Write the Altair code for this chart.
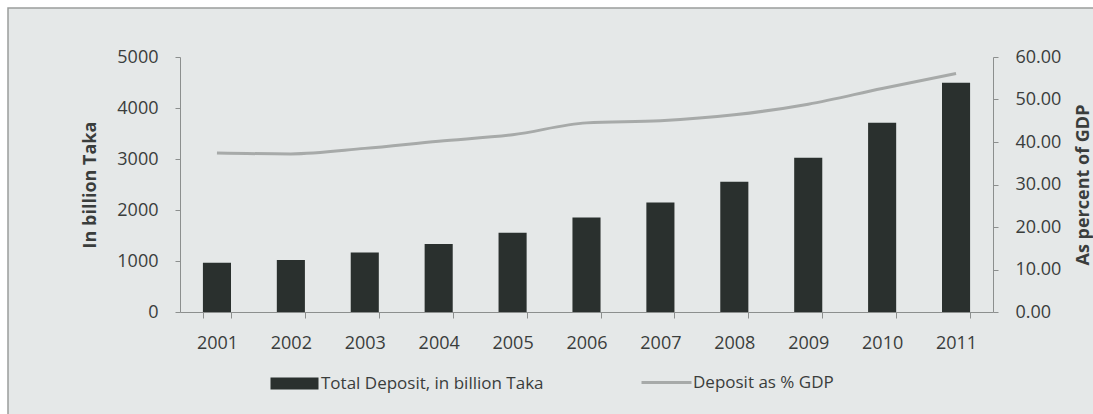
import altair as alt
import pandas as pd

years = ["2001", "2002", "2003", "2004", "2005", "2006", "2007", "2008", "2009", "2010", "2011"]
total_deposit = [965, 1020, 1165, 1335, 1555, 1855, 2145, 2555, 3025, 3710, 4495]
deposit_pct_gdp = [37.4, 37.2, 38.5, 40.2, 41.7, 44.5, 45.0, 46.4, 48.9, 52.6, 56.1]
bar_label = "Total Deposit, in billion Taka"
line_label = "Deposit as % GDP"
left_title = "In billion Taka"
right_title = "As percent of GDP"

df = pd.DataFrame({
    "year": years,
    "deposit": total_deposit,
    "pct": deposit_pct_gdp,
    "bar_series": [bar_label] * len(years),
    "line_series": [line_label] * len(years),
})

FONT = "Open Sans"
AXIS_GRAY = "#8c8f8e"
TEXT = "#3a3d3c"
BAR = "#2a302e"
LINE = "#a7aaa9"

# decorative frame (outline only, so it never hides axes)
margin = alt.Chart(alt.Data(values=[{}])).mark_rect(
    fill="transparent", stroke="#ffffff", strokeWidth=16
).encode(
    x=alt.value(-180), x2=alt.value(960),
    y=alt.value(-57), y2=alt.value(390),
)
frame = alt.Chart(alt.Data(values=[{}])).mark_rect(
    fill="transparent", stroke="#9a9d9c", strokeWidth=1.5
).encode(
    x=alt.value(-172), x2=alt.value(940),
    y=alt.value(-49), y2=alt.value(390),
)

x_enc = alt.X(
    "year:N", sort=years, title=None,
    scale=alt.Scale(paddingInner=0.62, paddingOuter=0.31),
    axis=alt.Axis(labelAngle=0, tickBand="extent", tickSize=6, labelPadding=16,
                  domainColor=AXIS_GRAY, tickColor=AXIS_GRAY),
)

bars = alt.Chart(df).mark_bar().encode(
    x=x_enc,
    y=alt.Y("deposit:Q", scale=alt.Scale(domain=[0, 5000]),
            axis=alt.Axis(values=[0, 1000, 2000, 3000, 4000, 5000], format="d",
                          title=left_title, titleAngle=270, titleX=-90, titleY=127.5,
                          titleAlign="center", titleBaseline="middle",
                          labelPadding=17, tickSize=5,
                          domainColor=AXIS_GRAY, tickColor=AXIS_GRAY)),
    color=alt.Color("bar_series:N", scale=alt.Scale(domain=[bar_label], range=[BAR]),
                    legend=alt.Legend(title=None, orient="none", legendX=106, legendY=318,
                                      symbolType="M-4,-1H4V1H-4Z", symbolSize=144,
                                      symbolOpacity=1, labelOffset=18, padding=0)),
)

line = alt.Chart(df).mark_line(strokeWidth=3, interpolate="monotone").encode(
    x=alt.X("year:N", sort=years),
    y=alt.Y("pct:Q", scale=alt.Scale(domain=[0, 60]),
            axis=alt.Axis(orient="right", values=[0, 10, 20, 30, 40, 50, 60], format=".2f",
                          title=right_title, titleAngle=270, titleX=90, titleY=127.5,
                          titleAlign="center", titleBaseline="middle",
                          labelPadding=17, tickSize=5,
                          domainColor=AXIS_GRAY, tickColor=AXIS_GRAY)),
    stroke=alt.Stroke("line_series:N", scale=alt.Scale(domain=[line_label], range=[LINE]),
                      legend=alt.Legend(title=None, orient="none", legendX=460, legendY=299,
                                        symbolType="stroke", symbolSize=2500,
                                        symbolStrokeWidth=3, labelOffset=0, padding=0)),
)

chart = alt.layer(margin, frame, bars, line).resolve_scale(
    y="independent", color="independent"
).properties(
    width=813, height=255,
    autosize=alt.AutoSizeParams(type="none"),
    padding={"left": 180, "top": 57, "right": 100, "bottom": 102},
    background="#e5e8e8",
).configure_view(stroke=None).configure_axis(
    labelFont=FONT, labelFontSize=18, labelColor=TEXT,
    titleFont=FONT, titleFontSize=18, titleFontWeight="bold", titleColor=TEXT,
    grid=False,
).configure_legend(
    labelFont=FONT, labelFontSize=17, labelColor=TEXT, labelLimit=0,
)

chart.save("out.html", embed_options={"renderer": "svg", "actions": False})
